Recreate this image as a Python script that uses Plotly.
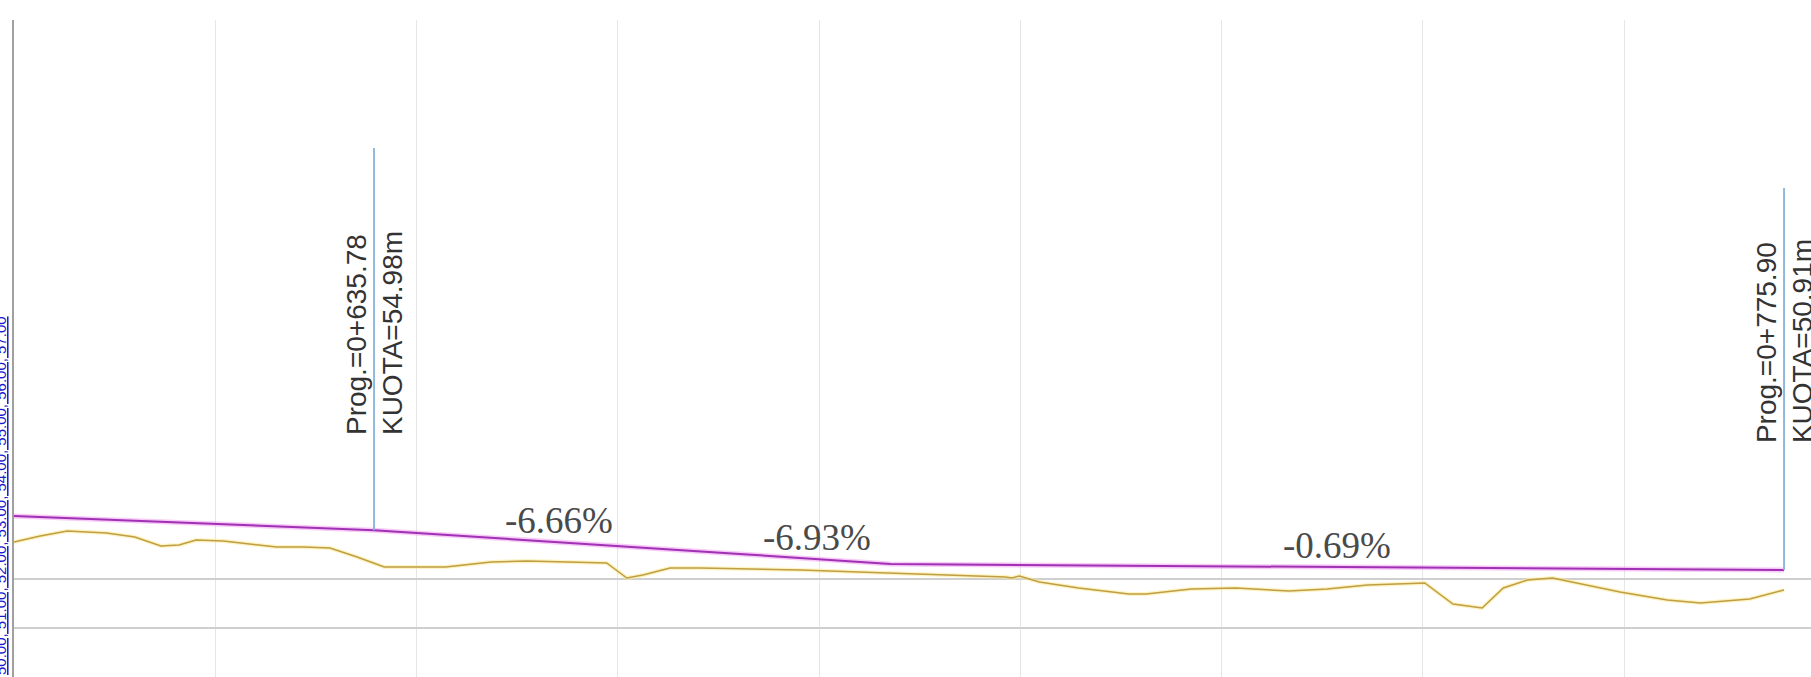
import plotly.graph_objects as go

# Ground profile (chainage m, elevation m)
ground_x = [600.0, 602.6, 605.3, 609.2, 612.0, 614.6, 616.4, 618.1, 620.8, 626.1, 628.8, 631.4,
            634.1, 636.8, 642.9, 647.4, 651.0, 658.9, 660.9, 662.5, 665.2, 668.2, 678.1, 690.3,
            698.5, 699.2, 699.9, 701.9, 705.8, 710.8, 712.5, 717.0, 721.4, 726.7, 730.5, 734.5,
            740.2, 743.0, 745.9, 748.0, 750.4, 752.9, 754.9, 759.6, 764.3, 767.6, 772.5, 775.9]
ground_y = [53.78, 54.39, 54.90, 54.69, 54.29, 53.37, 53.47, 53.98, 53.88, 53.27, 53.27, 53.16,
            52.24, 51.22, 51.22, 51.73, 51.84, 51.63, 50.10, 50.41, 51.12, 51.12, 50.92, 50.51,
            50.20, 50.10, 50.31, 49.69, 49.08, 48.47, 48.47, 48.98, 49.08, 48.78, 48.98, 49.39,
            49.59, 47.45, 47.04, 49.08, 49.90, 50.10, 49.69, 48.67, 47.86, 47.55, 47.96, 48.88]

# Design grade line vertices
grade_x = [600.0, 635.78, 672.5, 687.1, 775.90]
grade_y = [56.43, 54.98, 52.535, 51.523, 50.91]
grade_labels = ["-6.66%", "-6.93%", "-0.69%"]

# Marked stations
station_x = [635.78, 775.90]
station_z = [54.98, 50.91]
station_text = ["Prog.=0+635.78<br>KUOTA=54.98m", "Prog.=0+775.90<br>KUOTA=50.91m"]
station_label_bottom = [64.49, 63.67]
marker_height = 39.0

x_grid = [600, 620, 640, 660, 680, 700, 720, 740, 760]
y_grid = [45, 50]

fig = go.Figure()

# ground halo + line
fig.add_trace(go.Scatter(x=ground_x, y=ground_y, mode="lines",
                         line=dict(color="rgba(250,235,150,0.6)", width=4), hoverinfo="skip"))
fig.add_trace(go.Scatter(x=ground_x, y=ground_y, mode="lines",
                         line=dict(color="#bf9e45", width=1.5)))
# grade halo + line
fig.add_trace(go.Scatter(x=grade_x, y=grade_y, mode="lines",
                         line=dict(color="rgba(240,150,240,0.5)", width=5), hoverinfo="skip"))
fig.add_trace(go.Scatter(x=grade_x, y=grade_y, mode="lines",
                         line=dict(color="#a030b4", width=2)))

# station markers
for sx, sz in zip(station_x, station_z):
    fig.add_trace(go.Scatter(x=[sx, sx], y=[sz, sz + marker_height], mode="lines",
                             line=dict(color="#86b3d9", width=1.8)))

annotations = []
for sx, txt, yb in zip(station_x, station_text, station_label_bottom):
    annotations.append(dict(x=sx, y=yb, xref="x", yref="y", text=txt, showarrow=False,
                            textangle=-90, xanchor="center", yanchor="bottom", align="left",
                            font=dict(family="Liberation Sans, Arial", size=28, color="#333333")))

for i, lab in enumerate(grade_labels):
    x0, x1 = grade_x[i + 1], grade_x[i + 2]
    y0, y1 = grade_y[i + 1], grade_y[i + 2]
    xm = (x0 + x1) / 2
    ym = (y0 + y1) / 2
    annotations.append(dict(x=xm, y=ym, xref="x", yref="y", text=lab, showarrow=False,
                            xanchor="center", yanchor="middle", yshift=22,
                            font=dict(family="Liberation Serif, Times New Roman", size=37,
                                      color="#4a4a4a")))

# cut-off blue axis text at left edge
annotations.append(dict(x=-0.0075, y=0.0, xref="paper", yref="paper",
                        text="<u>50.00, 51.00, 52.00, 53.00, 54.00, 55.00, 56.00, 57.00</u>",
                        showarrow=False,
                        textangle=-90, xanchor="center", yanchor="bottom",
                        font=dict(family="Liberation Sans, Arial", size=15, color="#1a1acc")))

fig.update_layout(
    width=1811, height=677,
    margin=dict(l=14, r=0, t=20, b=0, autoexpand=False),
    paper_bgcolor="white", plot_bgcolor="white",
    showlegend=False,
    annotations=annotations,
    xaxis=dict(range=[600, 778.58], tickvals=x_grid, showticklabels=False, ticks="",
               showgrid=True, gridcolor="#e6e6e6", gridwidth=1, zeroline=False, showline=False),
    yaxis=dict(range=[40, 107.04], tickvals=y_grid, showticklabels=False, ticks="",
               showgrid=True, gridcolor="#cfcfcf", gridwidth=2, zeroline=False,
               showline=True, linecolor="#a0a0a0", linewidth=2),
)

fig.write_html("out.html", config={"displayModeBar": False},
               post_script="document.body.style.margin='0';document.body.style.overflow='hidden';")
